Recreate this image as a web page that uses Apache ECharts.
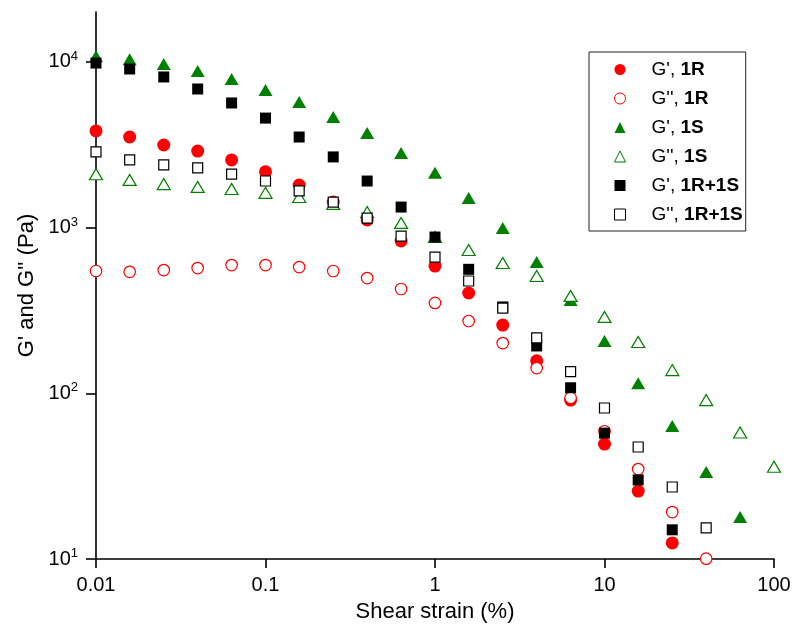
<!DOCTYPE html>
<html><head><meta charset="utf-8">
<script src="https://cdn.jsdelivr.net/npm/echarts@6/dist/echarts.min.js"></script>
<style>html,body{margin:0;padding:0;background:#fff}#c{width:795px;height:628px}</style>
</head><body><div id="c"></div>
<script>
const strain = [0.01,0.0158,0.0251,0.0398,0.0631,0.1,0.158,0.251,0.398,0.631,1,1.58,2.51,3.98,6.31,10,15.8,25.1,39.8,63.1,100];
const gp1R    = [3830,3520,3150,2895,2560,2170,1805,1426,1112,830,586,403,258,157,91,49.4,25.7,12.5];
const gpp1R   = [547,541,554,570,594,594,578,547,496,426,351,273,201,142,94,59,34.9,19.2,10.05];
const gp1S    = [10800,10380,9700,8810,7880,6770,5730,4650,3720,2820,2140,1510,995,620,366,207,115,63.5,33.5,17.9];
const gpp1S   = [2100,1940,1830,1760,1710,1620,1530,1390,1240,1067,877,733,611,510,387,289,204,138,91,58,36];
const gp1R1S  = [9840,9060,8110,6860,5650,4580,3520,2670,1910,1330,877,560,332,193,108,57.5,30,15];
const gpp1R1S = [2860,2560,2390,2290,2100,1910,1665,1426,1142,889,664,476,327,216,135,81.5,47.4,27.2,15.4];
const xTicks = [0.01,0.1,1,10,100];
const xTickLabels = ['0.01','0.1','1','10','100'];
const yTicks = [10,100,1000,10000];
const yExponents = ['1','2','3','4'];
const seriesNames = ["G', 1R","G'', 1R","G', 1S","G'', 1S","G', 1R+1S","G'', 1R+1S"];

const FONT = "'Liberation Sans', Arial, sans-serif";
function pts(arr){ return arr.map((v,i)=>[strain[i], v]); }
const RED = '#ff0000', GREEN = '#008000', BLACK = '#000000';
function filled(name, arr, symbol, size, color){
  return {name, type:'scatter', data:pts(arr), symbol, symbolSize:size,
    itemStyle:{color, borderWidth:0, opacity:1}, emphasis:{disabled:true}, z:2};
}
function open(name, arr, symbol, size, color){
  return {name, type:'scatter', data:pts(arr), symbol, symbolSize:size,
    itemStyle:{color:'#ffffff', borderColor:color, borderWidth:1.2, opacity:1}, emphasis:{disabled:true}, z:2};
}
const chart = echarts.init(document.getElementById('c'), null, {renderer:'canvas'});
chart.setOption({
  animation:false,
  backgroundColor:'#fff',
  grid:{left:96, right:21, top:12, bottom:69, containLabel:false},
  xAxis:{
    type:'log', logBase:10, min:0.01, max:100,
    name:'Shear strain (%)', nameLocation:'middle', nameGap:42,
    nameTextStyle:{fontFamily:FONT, fontSize:22, color:'#000'},
    axisLine:{lineStyle:{color:'#000', width:1.6}},
    axisTick:{length:9, lineStyle:{color:'#000', width:1.6}, customValues:xTicks},
    axisLabel:{fontFamily:FONT, fontSize:20, color:'#000', margin:16, customValues:xTicks,
      formatter:(v)=>{ const i = xTicks.findIndex(t=>Math.abs(Math.log10(t)-Math.log10(v))<1e-6); return i>=0?xTickLabels[i]:''; }},
    splitLine:{show:false}, minorTick:{show:false}
  },
  yAxis:{
    type:'log', logBase:10, min:10, max:20000,
    name:"G' and G'' (Pa)", nameLocation:'middle', nameGap:58,
    nameTextStyle:{fontFamily:FONT, fontSize:22, color:'#000'},
    axisLine:{lineStyle:{color:'#000', width:1.6}},
    axisTick:{length:10, lineStyle:{color:'#000', width:1.6}, customValues:yTicks},
    axisLabel:{color:'#000', margin:18, customValues:yTicks,
      formatter:(v)=>{ const i = yTicks.findIndex(t=>Math.abs(Math.log10(t)-Math.log10(v))<1e-6); return i>=0?('{b|10}{s|'+yExponents[i]+'}'):''; },
      rich:{b:{fontFamily:FONT, fontSize:20, color:'#000', lineHeight:24},
            s:{fontFamily:FONT, fontSize:13, color:'#000', verticalAlign:'top', lineHeight:13}}},
    splitLine:{show:false}, minorTick:{show:false}
  },
  legend:{
    orient:'vertical', left:589, top:52,
    data:seriesNames,
    selectedMode:false,
    backgroundColor:'#fff', borderColor:'#222', borderWidth:1,
    padding:[8,3,7,25],
    itemWidth:11, itemHeight:11, itemGap:10,
    itemStyle:{borderWidth:1},
    textStyle:{fontFamily:FONT, fontSize:19, color:'#000'},
    formatter:(name)=>{ const p = name.split(', '); return '{n|'+p[0]+', }{b|'+p[1]+'}'; }
  },
  series:[
    filled(seriesNames[0], gp1R, 'circle', 13, RED),
    open(seriesNames[1], gpp1R, 'circle', 11.5, RED),
    filled(seriesNames[2], gp1S, 'triangle', [14,12], GREEN),
    open(seriesNames[3], gpp1S, 'triangle', [13,11], GREEN),
    filled(seriesNames[4], gp1R1S, 'rect', 11, BLACK),
    open(seriesNames[5], gpp1R1S, 'rect', 10, BLACK)
  ]
});
chart.setOption({legend:{textStyle:{rich:{
  n:{fontFamily:FONT, fontSize:19, color:'#000', lineHeight:22, padding:[0,0,0,21]},
  b:{fontFamily:FONT, fontSize:19, color:'#000', fontWeight:'bold', lineHeight:22}
}}}});
</script></body></html>
